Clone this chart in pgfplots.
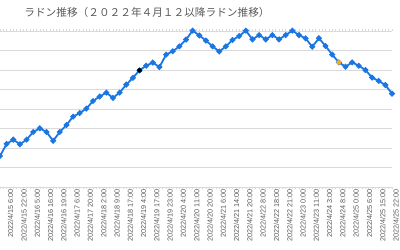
\documentclass[border=0pt]{standalone}
\usepackage{fontspec}
\usepackage{pgfplots}
\pgfplotsset{compat=1.18}
\setmainfont{Liberation Sans}
\newfontfamily\jp{Noto Sans CJK JP}
\definecolor{lineblue}{RGB}{28,118,226}
\definecolor{gridgray}{RGB}{217,217,217}
\definecolor{txtgray}{RGB}{89,89,89}
\definecolor{markorange}{RGB}{245,176,20}
\begin{document}
\begin{tikzpicture}[x=1bp,y=1bp]
\useasboundingbox (0,0) rectangle (400,250);
\node[font=\jp\fontsize{10.7}{12}\selectfont, text=txtgray, inner sep=0pt] at (147,238) {ラドン推移（２０２２年４月１２以降ラドン推移）};
\begin{axis}[
  at={(0bp,63bp)}, anchor=south west,
  width=392bp, height=156bp, scale only axis,
  xmin=0, xmax=59, ymin=0, ymax=8,
  clip=false,
  axis line style={draw=none},
  ytick={0,1,...,8}, yticklabels={},
  ytick style={draw=none},
  ymajorgrids, grid style={gridgray, line width=0.9bp},
  xtick={1,3,...,59},
  minor xtick={0,0.5,...,59},
  xtick align=outside,
  major tick length=2.2bp, minor tick length=2.2bp,
  xtick style={gridgray, line width=0.6bp},
  minor x tick style={gridgray, line width=0.6bp},
  xticklabels={2022/4/15 6:00,2022/4/15 22:00,2022/4/16 5:00,2022/4/16 16:00,2022/4/16 19:00,2022/4/17 6:00,2022/4/17 20:00,2022/4/18 2:00,2022/4/18 9:00,2022/4/18 17:00,2022/4/19 4:00,2022/4/19 17:00,2022/4/19 23:00,2022/4/20 4:00,2022/4/20 11:00,2022/4/20 20:00,2022/4/21 6:00,2022/4/21 14:00,2022/4/21 20:00,2022/4/22 8:00,2022/4/22 18:00,2022/4/22 21:00,2022/4/23 0:00,2022/4/23 11:00,2022/4/24 3:00,2022/4/24 8:00,2022/4/25 0:00,2022/4/25 6:00,2022/4/25 15:00,2022/4/25 22:00},
  xticklabel style={rotate=90, anchor=east, inner sep=0pt, yshift=-4bp, font=\fontsize{7.3}{8}\selectfont, text=txtgray},
]
\addplot[lineblue, line width=1.8bp, mark=*, mark size=1.9bp, mark options={fill=lineblue, draw=lineblue}] coordinates {
(0,1.59) (1,2.21) (2,2.43) (3,2.19) (4,2.43) (5,2.82) (6,3.01) (7,2.82) (8,2.37) (9,2.82)
(10,3.18) (11,3.61) (12,3.79) (13,4.02) (14,4.41) (15,4.64) (16,4.84) (17,4.57) (18,4.84) (19,5.25)
(20,5.60) (21,5.98) (22,6.22) (23,6.38) (24,6.15) (25,6.79) (26,6.96) (27,7.21) (28,7.56) (29,8.02)
(30,7.77) (31,7.51) (32,7.21) (33,6.95) (34,7.21) (35,7.54) (36,7.74) (37,8.02) (38,7.57) (39,7.79)
(40,7.57) (41,7.79) (42,7.57) (43,7.79) (44,8.02) (45,7.79) (46,7.62) (47,7.19) (48,7.63) (49,7.23)
(50,6.79) (51,6.39) (52,6.17) (53,6.39) (54,6.22) (55,6.00) (56,5.61) (57,5.44) (58,5.23) (59,4.79)
};
\addplot[only marks, mark=*, mark size=2.1bp, mark options={fill=black, draw=black}] coordinates {(21,5.98)};
\addplot[only marks, mark=*, mark size=2.1bp, mark options={fill=markorange, draw=markorange}] coordinates {(51,6.39)};
\end{axis}
\end{tikzpicture}
\end{document}
